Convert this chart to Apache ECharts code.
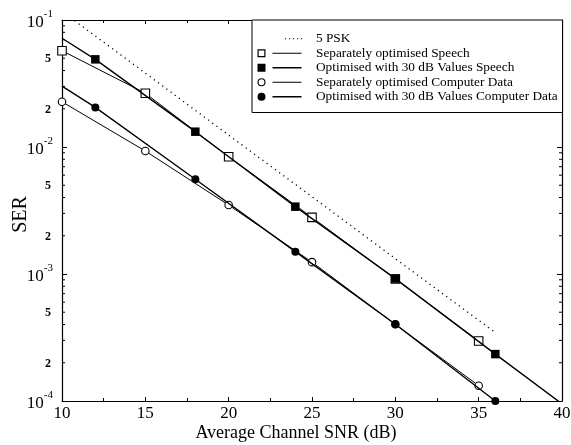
<!DOCTYPE html>
<html>
<head>
<meta charset="utf-8">
<script src="https://cdn.jsdelivr.net/npm/echarts@6/dist/echarts.min.js"></script>
<style>
  html, body { margin: 0; padding: 0; background: #fff; }
  #chart { width: 571px; height: 445px; }
</style>
</head>
<body>
<div id="chart"></div>
<script>
// Symbol error rate versus average channel SNR
const pskSnr = [10, 15, 20, 25, 30, 35, 36];
const pskSer = [1.17e-1, 3.82e-2, 1.24e-2, 4.06e-3, 1.32e-3, 4.32e-4, 3.46e-4];

const speechSepSnr = [10, 15, 20, 25, 30, 35];
const speechSepSer = [5.73e-2, 2.65e-2, 8.39e-3, 2.79e-3, 9.14e-4, 2.97e-4];

const speechOptSnr = [10, 12, 18, 24, 30, 36, 40];
const speechOptSer = [7.18e-2, 4.90e-2, 1.32e-2, 3.39e-3, 9.2e-4, 2.34e-4, 9.5e-5];
const speechOptMarked = [false, true, true, true, true, true, false];

const dataSepSnr = [10, 15, 20, 25, 30, 35];
const dataSepSer = [2.27e-2, 9.30e-3, 3.49e-3, 1.24e-3, 4.02e-4, 1.32e-4];

const dataOptSnr = [10, 12, 18, 24, 30, 36];
const dataOptSer = [3.02e-2, 2.05e-2, 5.57e-3, 1.50e-3, 4.02e-4, 1.0e-4];
const dataOptMarked = [false, true, true, true, true, true];

const seriesNames = [
  '5 PSK',
  'Separately optimised Speech',
  'Optimised with 30 dB Values Speech',
  'Separately optimised Computer Data',
  'Optimised with 30 dB Values Computer Data'
];

const minorMantissas = [2, 3, 4, 5, 6, 7, 8, 9];
const labelledMantissas = [2, 5];
const decades = [-4, -3, -2];

const SERIF = '"Liberation Serif", "DejaVu Serif", serif';

function points(xs, ys, marked) {
  return xs.map((x, i) => {
    const item = { value: [x, ys[i]] };
    if (marked && !marked[i]) item.symbol = 'none';
    return item;
  });
}

// legend icons: marker on the left, line sample on the right (box 54 x 9)
const anchor = 'M0 0Z M54 9Z ';
const thinLine = 'M15.5 4 h29 v1 h-29 Z ';
const thickLine = 'M15.5 3.8 h29 v1.4 h-29 Z ';
const dots = [28, 32, 36, 40, 44].map(x => `M${x} 4 h1.1 v1.1 h-1.1 Z `).join('');
const hollowSquare = 'M0.5 0.5 h8 v8 h-8 Z M1.7 1.7 v5.6 h5.6 v-5.6 Z ';
const solidSquare = 'M0.5 0.5 h8 v8 h-8 Z ';
const hollowCircle = 'M0.5 4.5 A4 4 0 1 1 8.5 4.5 A4 4 0 1 1 0.5 4.5 Z M1.6 4.5 A2.9 2.9 0 1 0 7.4 4.5 A2.9 2.9 0 1 0 1.6 4.5 Z ';
const solidCircle = 'M0.5 4.5 A4 4 0 1 1 8.5 4.5 A4 4 0 1 1 0.5 4.5 Z ';
const legendIcons = [
  anchor + dots,
  anchor + hollowSquare + thinLine,
  anchor + solidSquare + thickLine,
  anchor + hollowCircle + thinLine,
  anchor + solidCircle + thickLine
];

const chart = echarts.init(document.getElementById('chart'), null, { renderer: 'canvas' });

const axisLineStyle = { color: '#000', width: 1.2 };

const option = {
  backgroundColor: '#fff',
  animation: false,
  textStyle: { fontFamily: SERIF, color: '#000' },
  grid: { left: 62, right: 9, top: 20, bottom: 44, containLabel: false, outerBoundsMode: 'none' },
  legend: {
    orient: 'vertical',
    left: 252,
    top: 20,
    padding: [12, 5, 9, 5],
    itemWidth: 54,
    itemHeight: 9,
    itemGap: 1,
    backgroundColor: '#fff',
    borderColor: '#000',
    borderWidth: 1,
    symbolKeepAspect: true,
    textStyle: { fontFamily: SERIF, fontSize: 13.3, color: '#000', lineHeight: 13.5 },
    data: seriesNames.map((n, i) => ({
      name: n,
      icon: 'path://' + legendIcons[i],
      itemStyle: { color: '#000', borderWidth: 0, opacity: 1 }
    }))
  },
  xAxis: [
    {
      type: 'value', min: 10, max: 40, interval: 5,
      name: 'Average Channel SNR (dB)', nameLocation: 'middle', nameGap: 23, nameMoveOverlap: false,
      nameTextStyle: { fontFamily: SERIF, fontSize: 18, color: '#000', padding: [0, 32, 0, 0] },
      axisLine: { show: true, lineStyle: axisLineStyle },
      axisTick: { show: true, inside: true, length: 4, lineStyle: { color: '#000' } },
      minorTick: { show: true, splitNumber: 2, length: 3, lineStyle: { color: '#000' } },
      splitLine: { show: false },
      axisLabel: { fontFamily: SERIF, fontSize: 17, color: '#000', margin: 4 }
    },
    {
      type: 'value', min: 10, max: 40, interval: 5, position: 'top',
      axisLine: { show: true, lineStyle: axisLineStyle },
      axisTick: { show: true, inside: true, length: 4, lineStyle: { color: '#000' } },
      minorTick: { show: true, splitNumber: 2, length: 3, lineStyle: { color: '#000' } },
      splitLine: { show: false },
      axisLabel: { show: false }
    }
  ],
  yAxis: [
    {
      type: 'log', logBase: 10, min: 1e-4, max: 1e-1,
      name: 'SER', nameLocation: 'middle', nameGap: 31, nameRotate: 90, nameMoveOverlap: false,
      nameTextStyle: { fontFamily: SERIF, fontSize: 20, color: '#000', padding: [0, 8, 0, 0] },
      axisLine: { show: true, lineStyle: axisLineStyle },
      axisTick: { show: true, inside: true, length: 5, lineStyle: { color: '#000' } },
      splitLine: { show: false },
      axisLabel: {
        margin: 9,
        formatter: v => '{b|10}{s|' + Math.round(Math.log10(v)) + '}',
        rich: {
          b: { fontFamily: SERIF, fontSize: 17, color: '#000', verticalAlign: 'bottom', lineHeight: 22 },
          s: { fontFamily: SERIF, fontSize: 11, color: '#000', verticalAlign: 'top', lineHeight: 22 }
        }
      }
    },
    {
      type: 'log', logBase: 10, min: 1e-4, max: 1e-1, position: 'right',
      axisLine: { show: true, lineStyle: axisLineStyle },
      axisTick: { show: true, inside: true, length: 5, lineStyle: { color: '#000' } },
      splitLine: { show: false },
      axisLabel: { show: false }
    }
  ],
  series: [
    {
      name: seriesNames[0], type: 'line', clip: true, symbol: 'none',
      lineStyle: { color: '#000', width: 1.3, type: [1.2, 4] },
      itemStyle: { color: '#000' },
      data: points(pskSnr, pskSer)
    },
    {
      name: seriesNames[1], type: 'line', clip: true, symbol: 'rect', symbolSize: 8.5,
      lineStyle: { color: '#000', width: 1 },
      itemStyle: { color: '#fff', borderColor: '#000', borderWidth: 1.1 },
      data: points(speechSepSnr, speechSepSer), z: 3
    },
    {
      name: seriesNames[2], type: 'line', clip: true, symbol: 'rect', symbolSize: 8.5,
      lineStyle: { color: '#000', width: 1.4 },
      itemStyle: { color: '#000', borderColor: '#000', borderWidth: 0 },
      data: points(speechOptSnr, speechOptSer, speechOptMarked), z: 4
    },
    {
      name: seriesNames[3], type: 'line', clip: true, symbol: 'circle', symbolSize: 7.5,
      lineStyle: { color: '#000', width: 1 },
      itemStyle: { color: '#fff', borderColor: '#000', borderWidth: 1.1 },
      data: points(dataSepSnr, dataSepSer), z: 3
    },
    {
      name: seriesNames[4], type: 'line', clip: true, symbol: 'circle', symbolSize: 8,
      lineStyle: { color: '#000', width: 1.4 },
      itemStyle: { color: '#000', borderColor: '#000', borderWidth: 0 },
      data: points(dataOptSnr, dataOptSer, dataOptMarked), z: 4
    }
  ]
};

chart.setOption(option);

// Minor log ticks (2..9 per decade) on both vertical axes, plus the "2" and "5" labels
const xLeft = chart.convertToPixel({ xAxisIndex: 0 }, 10);
const xRight = chart.convertToPixel({ xAxisIndex: 0 }, 40);
const extras = [];
decades.forEach(d => {
  minorMantissas.forEach(m => {
    const y = chart.convertToPixel({ yAxisIndex: 0 }, m * Math.pow(10, d));
    extras.push({
      type: 'line', silent: true,
      shape: { x1: xLeft, y1: y, x2: xLeft + 3, y2: y },
      style: { stroke: '#000', lineWidth: 1 }
    });
    extras.push({
      type: 'line', silent: true,
      shape: { x1: xRight, y1: y, x2: xRight - 3, y2: y },
      style: { stroke: '#000', lineWidth: 1 }
    });
    if (labelledMantissas.includes(m)) {
      extras.push({
        type: 'text', silent: true,
        x: xLeft - 11, y: y + 1,
        style: {
          text: String(m), fontFamily: SERIF, fontSize: 12, fontWeight: 'bold',
          fill: '#000', align: 'right', verticalAlign: 'middle'
        }
      });
    }
  });
});
chart.setOption({ graphic: { elements: extras } });
</script>
</body>
</html>
